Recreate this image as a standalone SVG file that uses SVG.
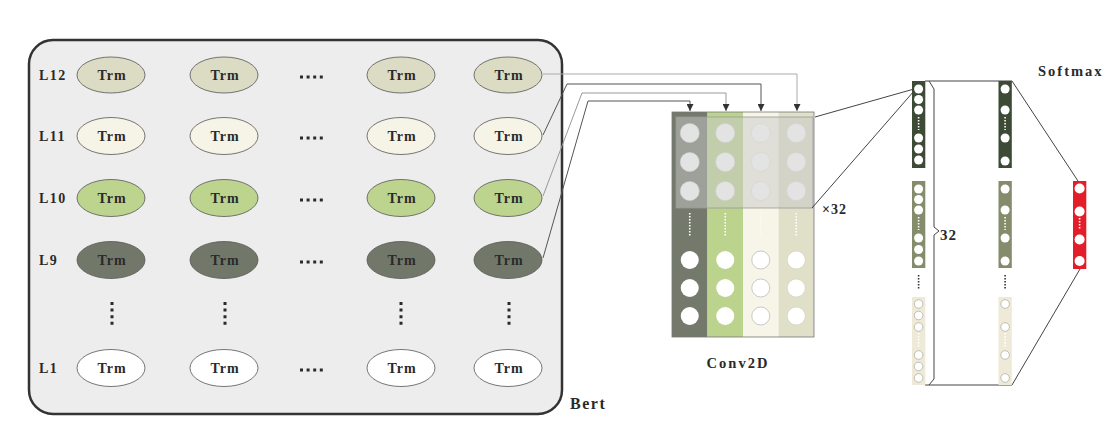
<svg xmlns="http://www.w3.org/2000/svg" width="1106" height="426" viewBox="0 0 1106 426">
<defs>
<style>
.lbl{font-family:"Liberation Serif","Times New Roman",serif;font-weight:bold;fill:#2a2a2a}
.row{font-size:14px;letter-spacing:1.5px}
.trm{font-size:14px;letter-spacing:1px;text-anchor:middle}
.ell{stroke:#555;stroke-width:0.8}
.hd{stroke:#2a2a2a;stroke-width:3;stroke-dasharray:3 3.6;fill:none}
.conn{fill:none;stroke-width:1}
.wdot{stroke:#fff;stroke-width:1.6;stroke-dasharray:1.5 1.5;fill:none}
.ddot{stroke:#333;stroke-width:1.6;stroke-dasharray:1.5 1.5;fill:none}
.ln{fill:none;stroke:#444;stroke-width:1}
</style>
<marker id="arr" viewBox="0 0 10 10" refX="10" refY="5" markerWidth="8" markerHeight="7" markerUnits="userSpaceOnUse" orient="auto">
<path d="M0,0 L10,5 L0,10 z" fill="#333"/>
</marker>
</defs>
<rect width="1106" height="426" fill="#ffffff"/>

<g id="bert">
<rect x="29" y="40" width="533" height="374" rx="24" fill="#ededed" stroke="#333" stroke-width="2.5"/>
<text class="lbl" x="570" y="409" font-size="16" letter-spacing="1.5">Bert</text>
</g>

<g id="row-labels">
<text class="lbl row" x="39" y="80">L12</text>
<text class="lbl row" x="39" y="141">L11</text>
<text class="lbl row" x="39" y="203">L10</text>
<text class="lbl row" x="39" y="265">L9</text>
<text class="lbl row" x="39" y="373">L1</text>
</g>

<g id="layer12">
<ellipse class="ell" cx="111" cy="75" rx="34" ry="18" fill="#dcdbc4"/><text class="lbl trm" x="112" y="80">Trm</text>
<ellipse class="ell" cx="224" cy="75" rx="34" ry="18" fill="#dcdbc4"/><text class="lbl trm" x="225" y="80">Trm</text>
<line class="hd" x1="300" y1="77" x2="324" y2="77"/>
<ellipse class="ell" cx="401" cy="75" rx="34" ry="18" fill="#dcdbc4"/><text class="lbl trm" x="402" y="80">Trm</text>
<ellipse class="ell" cx="508" cy="75" rx="34" ry="18" fill="#dcdbc4"/><text class="lbl trm" x="509" y="80">Trm</text>
</g>
<g id="layer11">
<ellipse class="ell" cx="111" cy="136" rx="34" ry="18.5" fill="#f5f4e6"/><text class="lbl trm" x="112" y="141">Trm</text>
<ellipse class="ell" cx="224" cy="136" rx="34" ry="18.5" fill="#f5f4e6"/><text class="lbl trm" x="225" y="141">Trm</text>
<line class="hd" x1="300" y1="138" x2="324" y2="138"/>
<ellipse class="ell" cx="401" cy="136" rx="34" ry="18.5" fill="#f5f4e6"/><text class="lbl trm" x="402" y="141">Trm</text>
<ellipse class="ell" cx="508" cy="136" rx="34" ry="18.5" fill="#f5f4e6"/><text class="lbl trm" x="509" y="141">Trm</text>
</g>
<g id="layer10">
<ellipse class="ell" cx="111" cy="198" rx="34" ry="18.5" fill="#bdd48f"/><text class="lbl trm" x="112" y="203">Trm</text>
<ellipse class="ell" cx="224" cy="198" rx="34" ry="18.5" fill="#bdd48f"/><text class="lbl trm" x="225" y="203">Trm</text>
<line class="hd" x1="300" y1="200" x2="324" y2="200"/>
<ellipse class="ell" cx="401" cy="198" rx="34" ry="18.5" fill="#bdd48f"/><text class="lbl trm" x="402" y="203">Trm</text>
<ellipse class="ell" cx="508" cy="198" rx="34" ry="18.5" fill="#bdd48f"/><text class="lbl trm" x="509" y="203">Trm</text>
</g>
<g id="layer9">
<ellipse class="ell" cx="111" cy="260" rx="34" ry="18.5" fill="#717869"/><text class="lbl trm" x="112" y="265">Trm</text>
<ellipse class="ell" cx="224" cy="260" rx="34" ry="18.5" fill="#717869"/><text class="lbl trm" x="225" y="265">Trm</text>
<line class="hd" x1="300" y1="262" x2="324" y2="262"/>
<ellipse class="ell" cx="401" cy="260" rx="34" ry="18.5" fill="#717869"/><text class="lbl trm" x="402" y="265">Trm</text>
<ellipse class="ell" cx="508" cy="260" rx="34" ry="18.5" fill="#717869"/><text class="lbl trm" x="509" y="265">Trm</text>
</g>
<g id="vdots">
<line class="hd" x1="112" y1="302" x2="112" y2="326"/>
<line class="hd" x1="225" y1="302" x2="225" y2="326"/>
<line class="hd" x1="401" y1="302" x2="401" y2="326"/>
<line class="hd" x1="509" y1="302" x2="509" y2="326"/>
</g>
<g id="layer1">
<ellipse class="ell" cx="111" cy="368" rx="34" ry="18.5" fill="#ffffff"/><text class="lbl trm" x="112" y="373">Trm</text>
<ellipse class="ell" cx="224" cy="368" rx="34" ry="18.5" fill="#ffffff"/><text class="lbl trm" x="225" y="373">Trm</text>
<line class="hd" x1="300" y1="370" x2="324" y2="370"/>
<ellipse class="ell" cx="401" cy="368" rx="34" ry="18.5" fill="#ffffff"/><text class="lbl trm" x="402" y="373">Trm</text>
<ellipse class="ell" cx="508" cy="368" rx="34" ry="18.5" fill="#ffffff"/><text class="lbl trm" x="509" y="373">Trm</text>
</g>

<g id="conv2d">
<rect x="672" y="112" width="35.5" height="225" fill="#737a6c"/>
<rect x="707.5" y="112" width="35.5" height="225" fill="#bcd38e"/>
<rect x="743" y="112" width="35.5" height="225" fill="#f6f5e7"/>
<rect x="778.5" y="112" width="35.5" height="225" fill="#e0dfc8"/>
<rect x="672" y="112" width="142" height="225" fill="none" stroke="#777" stroke-width="0.8"/>
<rect x="676" y="117" width="137" height="91" fill="#c8c8c8" fill-opacity="0.5" stroke="#9a9a9a" stroke-width="0.8"/>
<g fill="#e3e3e3" stroke="#d4d4d4" stroke-width="0.6">
<circle cx="689.75" cy="133" r="9.5"/><circle cx="725.25" cy="133" r="9.5"/><circle cx="760.75" cy="133" r="9.5"/><circle cx="796.25" cy="133" r="9.5"/>
<circle cx="689.75" cy="162" r="9.5"/><circle cx="725.25" cy="162" r="9.5"/><circle cx="760.75" cy="162" r="9.5"/><circle cx="796.25" cy="162" r="9.5"/>
<circle cx="689.75" cy="191" r="9.5"/><circle cx="725.25" cy="191" r="9.5"/><circle cx="760.75" cy="191" r="9.5"/><circle cx="796.25" cy="191" r="9.5"/>
</g>
<line class="wdot" x1="689.75" y1="213" x2="689.75" y2="236"/>
<line class="wdot" x1="725.25" y1="213" x2="725.25" y2="236"/>
<line class="wdot" x1="760.75" y1="213" x2="760.75" y2="236" stroke-opacity="0.6"/>
<line class="wdot" x1="796.25" y1="213" x2="796.25" y2="236"/>
<g fill="#ffffff">
<circle cx="689.75" cy="260" r="9"/><circle cx="725.25" cy="260" r="9"/>
<circle cx="689.75" cy="288" r="9"/><circle cx="725.25" cy="288" r="9"/>
<circle cx="689.75" cy="316" r="9"/><circle cx="725.25" cy="316" r="9"/>
</g>
<g fill="#ffffff" stroke="#bdbdbd" stroke-width="0.8">
<circle cx="760.75" cy="260" r="9"/><circle cx="760.75" cy="288" r="9"/><circle cx="760.75" cy="316" r="9"/>
</g>
<g fill="#ffffff" stroke="#d0d0c0" stroke-width="0.6">
<circle cx="796.25" cy="260" r="9"/><circle cx="796.25" cy="288" r="9"/><circle cx="796.25" cy="316" r="9"/>
</g>
<text class="lbl" x="822" y="214" font-size="14" letter-spacing="1">×32</text>
<text class="lbl" x="738" y="368" font-size="14.5" letter-spacing="2" text-anchor="middle">Conv2D</text>
</g>

<g id="connectors">
<path class="conn" stroke="#aaaaaa" d="M543 74 L797 74 L797 111" marker-end="url(#arr)"/>
<path class="conn" stroke="#555555" d="M543 135 L567 84 L761 84 L761 111" marker-end="url(#arr)"/>
<path class="conn" stroke="#999999" d="M543 196 L582 93 L726 93 L726 111" marker-end="url(#arr)"/>
<path class="conn" stroke="#555555" d="M543 258 L588 101 L690 101 L690 111" marker-end="url(#arr)"/>
<line class="ln" x1="815" y1="117" x2="914" y2="89" stroke="#555"/>
<line class="ln" x1="812" y1="208" x2="914" y2="91" stroke="#555"/>
<line class="ln" x1="925" y1="81" x2="1012" y2="81"/>
<line class="ln" x1="925" y1="385" x2="1012" y2="385"/>
<path class="ln" d="M929 81 L934 89 L934 227 L939 231 L934 235 L934 379 L929 385"/>
<line class="ln" x1="1012" y1="81" x2="1078" y2="181"/>
<line class="ln" x1="1012" y1="385" x2="1080" y2="269"/>
</g>

<g id="dense1">
<rect x="912" y="81" width="13.3" height="87" fill="#3d4a35"/>
<g fill="#ffffff"><circle cx="918.6" cy="89" r="4.5"/><circle cx="918.6" cy="99.5" r="4.5"/><circle cx="918.6" cy="110" r="4.5"/><circle cx="918.6" cy="138" r="4.5"/><circle cx="918.6" cy="149" r="4.5"/><circle cx="918.6" cy="160" r="4.5"/></g>
<line class="wdot" x1="918.6" y1="117" x2="918.6" y2="130" stroke-width="1.3"/>
<rect x="912" y="181" width="13.3" height="87" fill="#848c6c"/>
<g fill="#ffffff"><circle cx="918.6" cy="189" r="4.5"/><circle cx="918.6" cy="199.5" r="4.5"/><circle cx="918.6" cy="210" r="4.5"/><circle cx="918.6" cy="238" r="4.5"/><circle cx="918.6" cy="249.5" r="4.5"/><circle cx="918.6" cy="261" r="4.5"/></g>
<line class="wdot" x1="918.6" y1="217" x2="918.6" y2="230" stroke-width="1.3"/>
<line class="ddot" x1="918.6" y1="275" x2="918.6" y2="290" stroke-width="1.4"/>
<rect x="912" y="297" width="13.3" height="88" fill="#efe9d7"/>
<g fill="#ffffff" stroke="#b9b9b0" stroke-width="0.9"><circle cx="918.6" cy="304" r="4.3"/><circle cx="918.6" cy="315.5" r="4.3"/><circle cx="918.6" cy="327" r="4.3"/><circle cx="918.6" cy="355" r="4.3"/><circle cx="918.6" cy="366.5" r="4.3"/><circle cx="918.6" cy="378" r="4.3"/></g>
<line class="wdot" x1="918.6" y1="333" x2="918.6" y2="347" stroke-width="1.3"/>
</g>

<g id="dense2">
<rect x="998.5" y="81" width="13.3" height="87" fill="#3d4a35"/>
<g fill="#ffffff"><circle cx="1005.1" cy="89" r="4.5"/><circle cx="1005.1" cy="110" r="4.5"/><circle cx="1005.1" cy="138" r="4.5"/><circle cx="1005.1" cy="161" r="4.5"/></g>
<line class="wdot" x1="1005.1" y1="117" x2="1005.1" y2="130" stroke-width="1.3"/>
<rect x="998.5" y="181" width="13.3" height="87" fill="#848c6c"/>
<g fill="#ffffff"><circle cx="1005.1" cy="189" r="4.5"/><circle cx="1005.1" cy="210" r="4.5"/><circle cx="1005.1" cy="238" r="4.5"/><circle cx="1005.1" cy="261" r="4.5"/></g>
<line class="wdot" x1="1005.1" y1="217" x2="1005.1" y2="230" stroke-width="1.3"/>
<line class="ddot" x1="1005.1" y1="275" x2="1005.1" y2="290" stroke-width="1.4"/>
<rect x="998.5" y="297" width="13.3" height="88" fill="#efe9d7"/>
<g fill="#ffffff" stroke="#b9b9b0" stroke-width="0.9"><circle cx="1005.1" cy="304" r="4.3"/><circle cx="1005.1" cy="327" r="4.3"/><circle cx="1005.1" cy="355" r="4.3"/><circle cx="1005.1" cy="378" r="4.3"/></g>
<line class="wdot" x1="1005.1" y1="333" x2="1005.1" y2="347" stroke-width="1.3"/>
</g>

<g id="softmax">
<rect x="1073" y="181" width="13.3" height="88" fill="#e31e2a"/>
<g fill="#ffffff"><circle cx="1079.6" cy="188.5" r="5"/><circle cx="1079.6" cy="211.5" r="5"/><circle cx="1079.6" cy="239.5" r="5"/><circle cx="1079.6" cy="261" r="5"/></g>
<line class="wdot" x1="1079.6" y1="218" x2="1079.6" y2="230" stroke-width="1.3"/>
<text class="lbl" x="1038" y="76" font-size="14.5" letter-spacing="2">Softmax</text>
</g>
<text class="lbl" x="940" y="240" font-size="15" letter-spacing="1">32</text>
</svg>
